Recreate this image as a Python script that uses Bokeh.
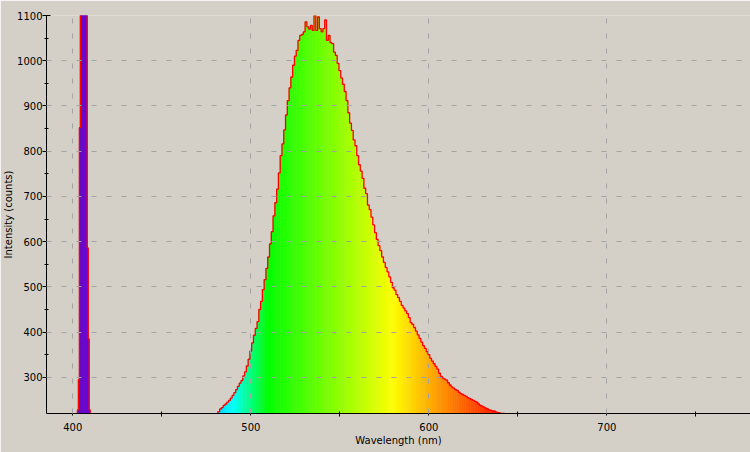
import numpy as np
from bokeh.plotting import figure
from bokeh.models import FixedTicker, Range1d, ColumnDataSource
from bokeh.embed import file_html
from bokeh.resources import INLINE

# ---------------- data ----------------
# 405 nm laser line (narrow detector bins, saturated above the axis top)
laser_wavelength = [402.90, 403.45, 404.00, 404.55, 405.10, 405.65, 406.20,
                    406.75, 407.30, 407.85, 408.40, 408.95, 409.50]
laser_counts = [228, 295, 852, 1350, 2600, 3900, 4100,
                3600, 2200, 1250, 586, 385, 228]
laser_bin_width = 0.55

# broad emission band, 1 nm bins from 482 nm to 642 nm
emission_wavelength = list(range(482, 643))
emission_counts = [
    224, 230, 233, 238, 241, 245, 249, 254, 260, 266,
    273, 280, 287, 293, 303, 312, 325, 340, 358, 376,
    393, 408, 423, 450, 468, 494, 516, 541, 566, 595,
    622, 657, 686, 716, 752, 790, 816, 847, 880, 912,
    940, 964, 990, 1010, 1023, 1045, 1056, 1058, 1064, 1086,
    1075, 1070, 1078, 1067, 1100, 1067, 1097, 1071, 1064, 1071,
    1090, 1045, 1056, 1040, 1038, 1019, 1012, 994, 978, 962,
    948, 932, 912, 885, 862, 846, 825, 812, 790, 770,
    756, 740, 718, 706, 681, 671, 654, 637, 620, 605,
    591, 580, 566, 554, 543, 533, 522, 510, 498, 493,
    483, 476, 468, 459, 453, 447, 441, 432, 421, 417,
    410, 402, 394, 386, 378, 370, 364, 357, 350, 342,
    336, 330, 324, 318, 309, 302, 298, 296, 294, 288,
    283, 279, 276, 273, 271, 267, 264, 262, 260, 258,
    255, 253, 251, 249, 247, 245, 241, 238, 236, 234,
    232, 230, 228, 227, 226, 225, 223, 222, 221, 220,
    220,
]
emission_bin_width = 1.0

x_ticks = [400, 500, 600, 700]
x_minor_ticks = [450, 550, 650, 750]
y_ticks = [300, 400, 500, 600, 700, 800, 900, 1000, 1100]
y_minor_ticks = [350, 450, 550, 650, 750, 850, 950, 1050]

x_title = "Wavelength (nm)"
y_title = "Intensity (counts)"


# ---------------- styling helpers ----------------
def wavelength_color(w):
    if w < 440:
        r, g, b = (440 - w) / 60.0, 0.0, 1.0
    elif w < 490:
        r, g, b = 0.0, (w - 440) / 50.0, 1.0
    elif w < 510:
        r, g, b = 0.0, 1.0, (510 - w) / 20.0
    elif w < 580:
        r, g, b = (w - 510) / 70.0, 1.0, 0.0
    elif w < 645:
        r, g, b = 1.0, (645 - w) / 65.0, 0.0
    else:
        r, g, b = 1.0, 0.0, 0.0
    if w < 420:
        f = 0.3 + 0.7 * (w - 380) / 40.0
    elif w > 700:
        f = 0.3 + 0.7 * (780 - w) / 80.0
    else:
        f = 1.0
    rgb = [c * f for c in (r, g, b)]
    if w < 420:
        rgb[0] *= 0.92
        rgb[2] = min(1.0, rgb[2] * 1.06)
    return "#%02x%02x%02x" % tuple(int(round(255 * max(0, min(1, c)))) for c in rgb)


def bins_source(centers, counts, width):
    c = np.asarray(centers, dtype=float)
    v = np.asarray(counts, dtype=float)
    return ColumnDataSource(dict(
        left=c - width / 2.0, right=c + width / 2.0,
        top=v, bottom=np.zeros_like(v),
        color=[wavelength_color(w) for w in c],
    ))


def stair_outline(centers, counts, width):
    c = np.asarray(centers, dtype=float)
    edges = np.concatenate([c - width / 2.0, [c[-1] + width / 2.0]])
    xs, ys = [edges[0]], [0.0]
    for i, val in enumerate(counts):
        xs += [edges[i], edges[i + 1]]
        ys += [val, val]
    xs.append(edges[-1])
    ys.append(0.0)
    return xs, ys


FONT = "DejaVu Sans"
BG = "#D4D0C8"

p = figure(width=750, height=452, output_backend="svg", toolbar_location=None,
           x_range=Range1d(385.25, 780.65), y_range=Range1d(220, 1100),
           background_fill_color=BG, border_fill_color=BG,
           min_border_left=45, min_border_right=0, min_border_top=15,
           min_border_bottom=39)
p.outline_line_color = None

for centers, counts, width in ((laser_wavelength, laser_counts, laser_bin_width),
                               (emission_wavelength, emission_counts, emission_bin_width)):
    src = bins_source(centers, counts, width)
    p.quad(left="left", right="right", top="top", bottom="bottom", source=src,
           fill_color="color", line_color="color", line_width=0.6)
    xs, ys = stair_outline(centers, counts, width)
    p.line(xs, ys, line_color="#FF0000", line_width=1.3)

# axes
p.xaxis.ticker = FixedTicker(ticks=x_ticks, minor_ticks=x_minor_ticks)
p.yaxis.ticker = FixedTicker(ticks=y_ticks, minor_ticks=y_minor_ticks)
p.xaxis.axis_label = x_title
p.yaxis.axis_label = y_title

for ax in (p.xaxis[0], p.yaxis[0]):
    ax.axis_line_color = "black"
    ax.major_tick_line_color = "black"
    ax.minor_tick_line_color = "black"
    ax.major_label_text_font = FONT
    ax.major_label_text_font_size = "10px"
    ax.major_label_text_color = "black"
    ax.axis_label_text_font = FONT
    ax.axis_label_text_font_size = "10px"
    ax.axis_label_text_font_style = "normal"
    ax.axis_label_text_color = "black"

p.xaxis.major_tick_in = 0
p.xaxis.major_tick_out = 2
p.xaxis.minor_tick_in = 2
p.xaxis.minor_tick_out = 3
p.xaxis.major_label_standoff = 6
p.xaxis.axis_label_standoff = 1

p.yaxis.major_tick_in = 4
p.yaxis.major_tick_out = 4
p.yaxis.minor_tick_in = 2
p.yaxis.minor_tick_out = 2
p.yaxis.major_label_standoff = 0
p.yaxis.axis_label_standoff = 0

# dashed grid drawn over the filled spectrum
for g in (p.xgrid[0], p.ygrid[0]):
    g.grid_line_color = "#A3A3A3"
    g.grid_line_dash = "5 10"
    g.grid_line_width = 1
    g.level = "overlay"

open("out.html", "w").write(file_html(p, INLINE))
